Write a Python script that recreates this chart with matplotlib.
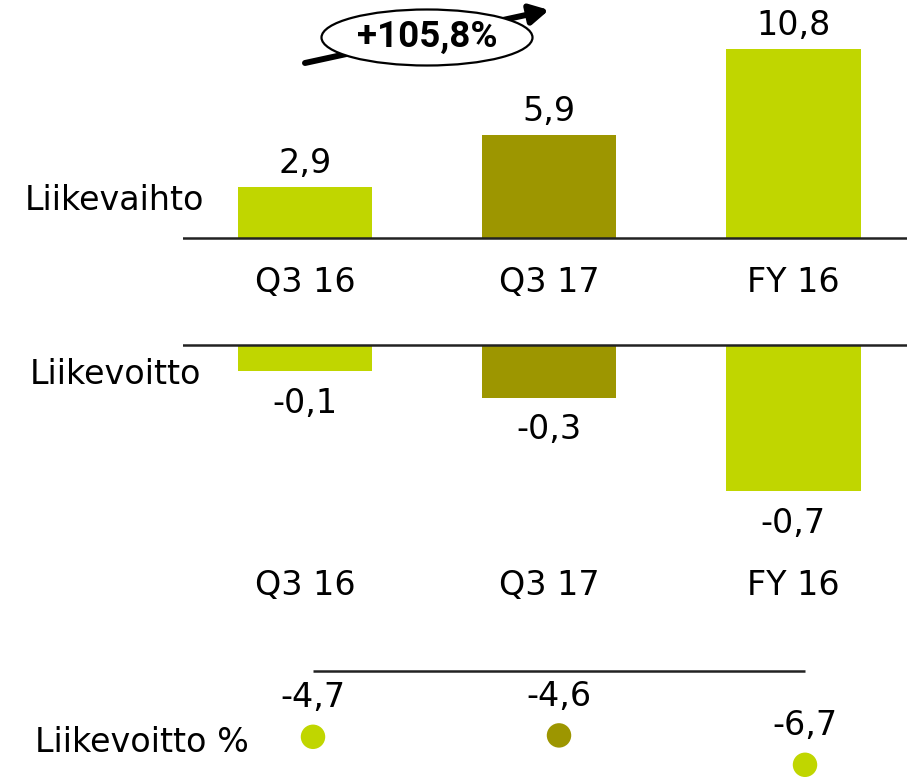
import matplotlib
matplotlib.use("Agg")
import matplotlib.pyplot as plt
from matplotlib.patches import Ellipse, FancyArrowPatch

# data
periods = ["Q3 16", "Q3 17", "FY 16"]
revenue = [2.9, 5.9, 10.8]          # Liikevaihto
ebit = [-0.13, -0.26, -0.72]        # Liikevoitto (bar heights as drawn)
ebit_pct = [-4.7, -4.6, -6.7]       # Liikevoitto %
growth_label = "+105,8%"

LIGHT = "#C0D600"
DARK = "#9D9600"
bar_colors = [LIGHT, DARK, LIGHT]

W, H = 907, 777
plt.rcParams["font.family"] = ["DejaVu Sans"]
FS = 24


def px_rect(left, top, right, bottom):
    return [left / W, 1 - bottom / H, (right - left) / W, (bottom - top) / H]


def fmt(v):
    return f"{v:.1f}".replace(".", ",")


fig = plt.figure(figsize=(W / 100, H / 100), dpi=100)
x = list(range(len(periods)))

# --- Liikevaihto ---
ax1 = fig.add_axes(px_rect(183, 0, 907, 310))
ax1.bar(x, revenue, width=0.553, color=bar_colors)
ax1.axhline(0, color="#222222", lw=1.8)
ax1.set_xlim(-0.5, 2.467)
ax1.set_ylim(-72 / 17.5, 238 / 17.5)
for xi, v, lab in zip(x, revenue, periods):
    ax1.annotate(fmt(v), (xi, v), xytext=(0, 17), textcoords="offset points",
                 ha="center", va="center", fontsize=FS)
    ax1.text(xi, -45 / 17.5, lab, ha="center", va="center", fontsize=FS)
ax1.axis("off")

# --- Liikevoitto ---
ax2 = fig.add_axes(px_rect(183, 330, 907, 620))
ax2.bar(x, ebit, width=0.553, color=bar_colors)
ax2.axhline(0, color="#222222", lw=1.8)
ax2.set_xlim(-0.5, 2.467)
ax2.set_ylim(-275 / 203, 15 / 203)
for xi, v, lab in zip(x, ebit, periods):
    ax2.annotate(fmt(v), (xi, v), xytext=(0, -23), textcoords="offset points",
                 ha="center", va="center", fontsize=FS)
    ax2.text(xi, -240 / 203, lab, ha="center", va="center", fontsize=FS)
ax2.axis("off")

# --- Liikevoitto % ---
ax3 = fig.add_axes(px_rect(190, 650, 907, 777))
ax3.hlines(0, x[0], x[-1], color="#222222", lw=1.8)
ax3.scatter(x, ebit_pct, s=310, color=bar_colors, edgecolors="none", zorder=3)
ax3.set_xlim(-0.5, (907 - 313) / 246)
ax3.set_ylim(-106 / 14, 21 / 14)
for xi, v in zip(x, ebit_pct):
    ax3.annotate(fmt(v), (xi, v), xytext=(0, 28), textcoords="offset points",
                 ha="center", va="center", fontsize=FS)
ax3.axis("off")

# row labels
fig.text(25 / W, 1 - 200 / H, "Liikevaihto", ha="left", va="center", fontsize=FS)
fig.text(30 / W, 1 - 375 / H, "Liikevoitto", ha="left", va="center", fontsize=FS)
fig.text(35 / W, 1 - 742 / H, "Liikevoitto %", ha="left", va="center", fontsize=FS)

# growth callout
arrow = FancyArrowPatch((305 / W, 1 - 63 / H), (549 / W, 1 - 10 / H),
                        transform=fig.transFigure,
                        arrowstyle="-|>,head_length=0.55,head_width=0.3",
                        mutation_scale=20, lw=4.3, color="black",
                        shrinkA=0, shrinkB=0, zorder=5)
fig.add_artist(arrow)
ell = Ellipse((427 / W, 1 - 37.5 / H), 211 / W, 56 / H, transform=fig.transFigure,
              facecolor="white", edgecolor="black", lw=1.6, zorder=6)
fig.add_artist(ell)
fig.text(427 / W, 1 - 37 / H, growth_label, ha="center", va="center", fontsize=26.5,
         fontweight="bold", family=["Roboto", "DejaVu Sans"], zorder=7)

fig.savefig("out.png", dpi=100)
